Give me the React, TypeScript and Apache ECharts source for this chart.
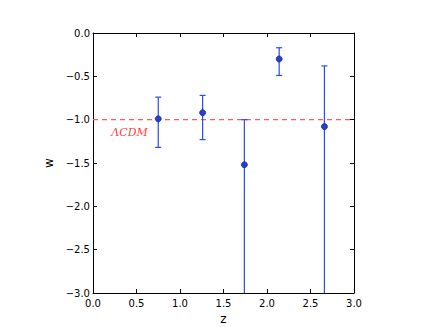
import React, { useEffect, useRef } from "react";
import * as echarts from "echarts";

const zValues = [0.75, 1.26, 1.74, 2.14, 2.66];
const wValues = [-0.99, -0.92, -1.52, -0.3, -1.08];
const wUpper = [-0.74, -0.72, -1.0, -0.17, -0.38];
const wLower = [-1.32, -1.23, -3.6, -0.49, -3.6];
const xTicks = [0, 0.5, 1, 1.5, 2, 2.5, 3];
const lcdmValue = -1.0;
const lcdmLabel = "ΛCDM";
const lcdmLabelPos = [0.42, -1.15];

const fmt = (v: number) => v.toFixed(1).replace("-", "\u2212");

export default function App() {
  const ref = useRef<HTMLDivElement>(null);
  useEffect(() => {
    const chart = echarts.init(ref.current!, null, { renderer: "svg" });
    const axisCommon = {
      axisLine: { show: true, onZero: false, lineStyle: { color: "#000", width: 1 } },
      axisTick: { show: true, inside: true, length: 4, lineStyle: { color: "#000" } },
      splitLine: { show: false },
    };
    const labelStyle = { color: "#000", fontSize: 10, fontFamily: "DejaVu Sans" };
    const xMin = xTicks[0];
    const xMax = xTicks[xTicks.length - 1];
    chart.setOption({
      animation: false,
      grid: { left: 85, top: 25, width: 261, height: 260, containLabel: false, outerBoundsMode: "none" },
      xAxis: [
        {
          type: "value", min: xMin, max: xMax, interval: 0.5,
          position: "bottom", name: "z", nameLocation: "middle", nameGap: 19,
          nameTextStyle: { color: "#000", fontSize: 12, fontFamily: "DejaVu Sans" },
          axisLabel: { ...labelStyle, margin: 5, formatter: fmt },
          ...axisCommon,
        },
        {
          type: "value", min: xMin, max: xMax, interval: 0.5, position: "top",
          axisLabel: { show: false }, ...axisCommon,
        },
      ],
      yAxis: [
        {
          type: "value", min: -3, max: 0, interval: 0.5, position: "left",
          name: "w", nameLocation: "middle", nameGap: 30, nameRotate: 90,
          nameTextStyle: { color: "#000", fontSize: 12, fontFamily: "DejaVu Sans" },
          axisLabel: { ...labelStyle, margin: 3, formatter: fmt },
          ...axisCommon,
        },
        {
          type: "value", min: -3, max: 0, interval: 0.5, position: "right",
          axisLabel: { show: false }, ...axisCommon,
        },
      ],
      series: [
        {
          type: "line",
          data: [[xMin, lcdmValue], [xMax, lcdmValue]],
          symbol: "none",
          silent: true,
          color: "#ff5a5a",
          lineStyle: { color: "#ff5a5a", type: [5, 4], width: 1.3, opacity: 1 },
          z: 1,
        },
        {
          type: "custom",
          clip: true,
          data: zValues.map((z, i) => [z, wUpper[i], wLower[i]]),
          renderItem: (params: any, api: any) => {
            const x = api.value(0);
            const top = api.coord([x, api.value(1)]);
            const bot = api.coord([x, api.value(2)]);
            const cap = 3;
            const st = { stroke: "#2a4bf0", lineWidth: 1.2 };
            return {
              type: "group",
              children: [
                { type: "line", shape: { x1: top[0], y1: top[1], x2: bot[0], y2: bot[1] }, style: st },
                { type: "line", shape: { x1: top[0] - cap, y1: top[1], x2: top[0] + cap, y2: top[1] }, style: st },
                { type: "line", shape: { x1: bot[0] - cap, y1: bot[1], x2: bot[0] + cap, y2: bot[1] }, style: st },
              ],
            };
          },
          z: 2,
        },
        {
          type: "scatter",
          data: zValues.map((z, i) => [z, wValues[i]]),
          symbol: "circle",
          symbolSize: 6,
          itemStyle: { color: "#1f3fe0", borderColor: "#1a2a80", borderWidth: 0.8, opacity: 1 },
          z: 4,
        },
        {
          type: "scatter",
          data: [lcdmLabelPos],
          symbolSize: 0,
          label: {
            show: true,
            position: "inside",
            formatter: lcdmLabel,
            color: "#ff0000",
            fontSize: 11,
            fontStyle: "italic",
            fontFamily: "DejaVu Serif",
          },
          z: 3,
        },
      ],
    });
    return () => chart.dispose();
  }, []);
  return <div ref={ref} style={{ width: 420, height: 319 }} />;
}
